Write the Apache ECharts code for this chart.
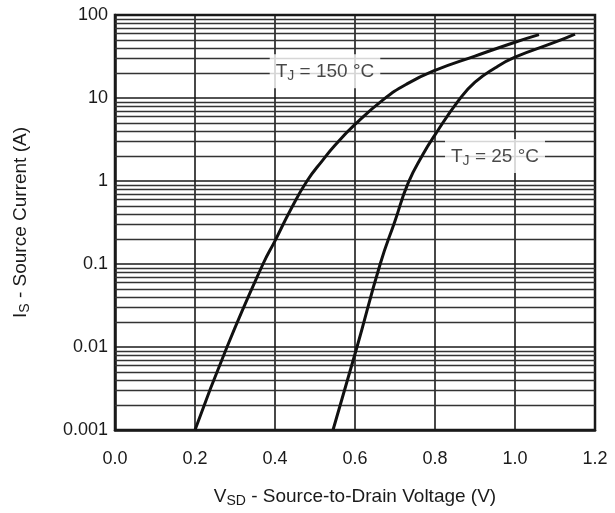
<!DOCTYPE html>
<html>
<head>
<meta charset="utf-8">
<script src="https://cdn.jsdelivr.net/npm/echarts@6/dist/echarts.min.js"></script>
<style>
  html, body { margin: 0; padding: 0; background: #fff; }
  #chart { width: 615px; height: 513px; }
</style>
</head>
<body>
<div id="chart"></div>
<script>
// V_SD (V) vs I_S (A)
var v150 = [0.2, 0.28, 0.37, 0.40, 0.44, 0.48, 0.52, 0.55, 0.60, 0.67, 0.73, 0.80, 0.90, 1.00, 1.06];
var i150 = [0.001, 0.01, 0.1, 0.19, 0.46, 1.0, 1.8, 2.7, 4.8, 9.5, 14.8, 21.5, 32, 47, 58];
var v25 = [0.545, 0.605, 0.663, 0.70, 0.733, 0.77, 0.80, 0.86, 0.90, 0.95, 1.00, 1.10, 1.15];
var i25 = [0.001, 0.01, 0.1, 0.33, 0.95, 2.1, 3.6, 9.5, 15.5, 23, 31, 47, 59];

var xTicks = ['0.0', '0.2', '0.4', '0.6', '0.8', '1.0', '1.2'];
var yTicks = ['0.001', '0.01', '0.1', '1', '10', '100'];

// where the two curve captions sit (V, A)
var label150 = [0.525, 21];
var label25 = [0.95, 2.0];

var FONT = 'Liberation Sans, Arial, sans-serif';
var INK = '#1a1a1a';

function pairs(xs, ys) {
    return xs.map(function (x, i) { return [x, ys[i]]; });
}

// 2..9 lines inside every decade
var minorLines = [];
for (var d = -3; d <= 1; d++) {
    for (var m = 2; m <= 9; m++) {
        minorLines.push({yAxis: m * Math.pow(10, d)});
    }
}

var richText = {
    a: {fontFamily: FONT, fontSize: 19, color: INK},
    s: {fontFamily: FONT, fontSize: 14, color: INK, padding: [8, 0, 0, 0]}
};

var myChart = echarts.init(document.getElementById('chart'));

myChart.setOption({
    animation: false,
    backgroundColor: '#fff',
    grid: {
        left: 115,
        top: 15,
        width: 480,
        height: 418,
        show: true,
        borderColor: INK,
        borderWidth: 2.5,
        backgroundColor: 'transparent'
    },
    xAxis: {
        type: 'value',
        min: 0,
        max: 1.2,
        interval: 0.2,
        name: '{a|V}{s|SD}{a| - Source-to-Drain Voltage (V)}',
        nameLocation: 'middle',
        nameGap: 56,
        nameTextStyle: {rich: richText},
        axisLine: {lineStyle: {color: INK, width: 2.5}},
        axisTick: {show: false},
        axisLabel: {
            margin: 20,
            fontFamily: FONT,
            fontSize: 18,
            color: INK,
            formatter: function (v) {
                return xTicks[Math.round(v / 0.2)];
            }
        },
        splitLine: {show: true, lineStyle: {color: INK, width: 1.6}}
    },
    yAxis: {
        type: 'log',
        logBase: 10,
        min: 0.001,
        max: 100,
        name: '{a|I}{s|S}{a| - Source Current (A)}',
        nameLocation: 'middle',
        nameGap: 83,
        nameRotate: 90,
        nameTextStyle: {rich: richText},
        axisLine: {lineStyle: {color: INK, width: 2.5}},
        axisTick: {show: false},
        axisLabel: {
            margin: 7,
            fontFamily: FONT,
            fontSize: 18,
            color: INK,
            formatter: function (v) {
                return yTicks[Math.round(Math.log(v) / Math.LN10) + 3];
            }
        },
        splitLine: {show: true, lineStyle: {color: INK, width: 1.6}}
    },
    series: [
        {
            name: 'minor grid',
            type: 'line',
            data: [],
            z: 1,
            silent: true,
            markLine: {
                silent: true,
                precision: 10,
                symbol: 'none',
                label: {show: false},
                lineStyle: {color: '#333', width: 1.3, type: 'solid'},
                data: minorLines
            }
        },
        {
            name: 'TJ = 150 °C',
            type: 'line',
            data: pairs(v150, i150),
            smooth: 0.5,
            showSymbol: false,
            z: 5,
            lineStyle: {color: '#111', width: 3}
        },
        {
            name: 'TJ = 25 °C',
            type: 'line',
            data: pairs(v25, i25),
            smooth: 0.5,
            showSymbol: false,
            z: 5,
            lineStyle: {color: '#111', width: 3}
        },
        {
            name: 'captions',
            type: 'scatter',
            symbolSize: 0,
            z: 6,
            silent: true,
            data: [
                {value: label150, label: {formatter: '{a|T}{s|J}{a| = 150 °C}'}},
                {value: label25, label: {formatter: '{a|T}{s|J}{a| = 25 °C}'}}
            ],
            label: {
                show: true,
                position: 'inside',
                backgroundColor: '#fff',
                padding: [7, 6, 5, 6],
                rich: richText
            }
        }
    ]
});
</script>
</body>
</html>
